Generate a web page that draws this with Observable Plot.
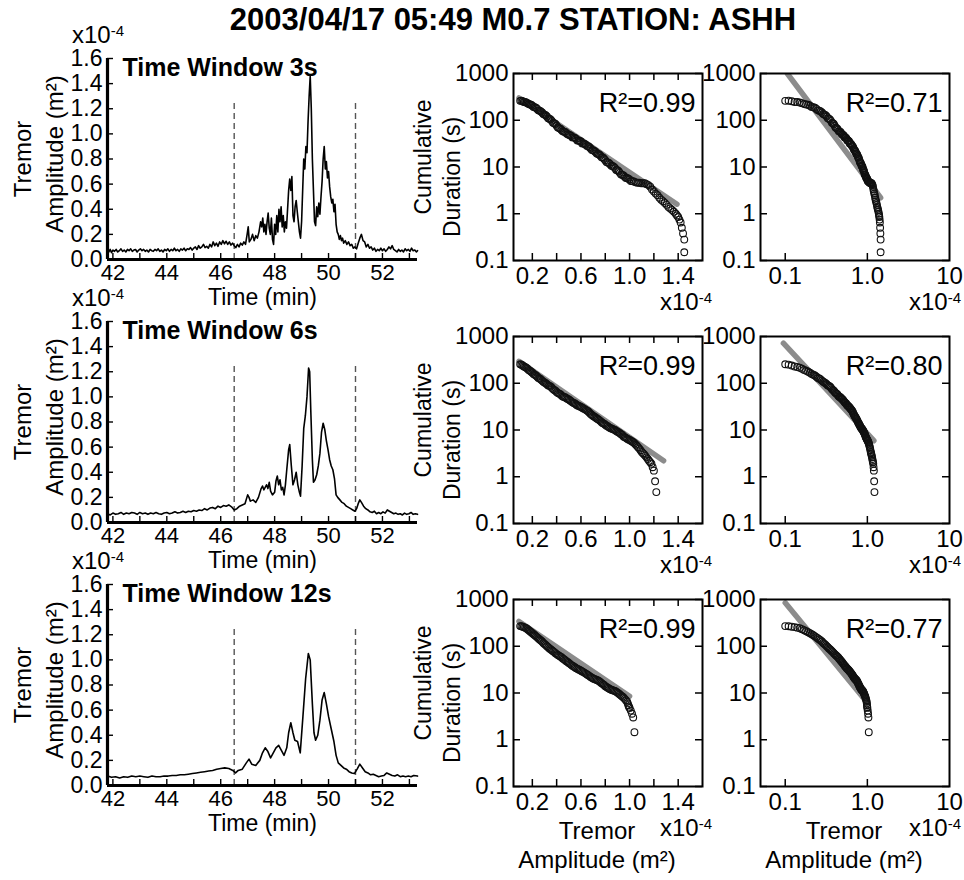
<!DOCTYPE html>
<html><head><meta charset="utf-8">
<script src="https://cdn.jsdelivr.net/npm/d3@7"></script>
<script src="https://cdn.jsdelivr.net/npm/@observablehq/plot@0.6"></script>
<style>
body{margin:0;background:#fff;}
#wrap{position:relative;width:964px;height:880px;overflow:hidden;background:#fff;font-family:"Liberation Sans",Arial,Helvetica,sans-serif;color:#000;}
#wrap sup{font-size:15px;vertical-align:7px;line-height:0;}
</style></head><body><div id="wrap"></div>
<script>
// ---------------- DATA ----------------
const title = "2003/04/17 05:49 M0.7 STATION: ASHH";
const windows = ["3s", "6s", "12s"];
const r2Linear = ["0.99", "0.99", "0.99"];
const r2Log = ["0.71", "0.80", "0.77"];
const timeTicks = [42, 44, 46, 48, 50, 52];
const minuteTicks = [42, 43, 44, 45, 46, 47, 48, 49, 50, 51, 52, 53];
const ampTicks = [0, 0.2, 0.4, 0.6, 0.8, 1.0, 1.2, 1.4, 1.6];
const durTicks = [0.1, 1, 10, 100, 1000];
const linAmpTicks = [0.2, 0.6, 1.0, 1.4];
const linAmpMinor = [0.2, 0.4, 0.6, 0.8, 1.0, 1.2, 1.4];
const logAmpTicks = [0.1, 1, 10];
const logAmpMinor = [0.1, 1];
const eventBounds = [46.5, 51.0];

// tremor amplitude (x1e-4 m^2) vs time (min)
const series3s = [[41.80,.085],[41.85,.06],[41.90,.08],[41.95,.055],[42.00,.075],[42.06,.065],[42.12,.08],[42.18,.06],[42.24,.07],[42.30,.085],[42.36,.065],[42.42,.075],[42.48,.06],[42.54,.08],[42.60,.07],[42.66,.085],[42.72,.065],[42.78,.075],[42.84,.08],[42.90,.06],[42.96,.075],[43.02,.085],[43.08,.07],[43.14,.08],[43.20,.065],[43.26,.075],[43.32,.06],[43.38,.08],[43.44,.07],[43.50,.065],[43.56,.08],[43.62,.07],[43.68,.085],[43.74,.065],[43.80,.075],[43.86,.06],[43.92,.08],[43.98,.07],[44.04,.085],[44.10,.065],[44.16,.08],[44.22,.07],[44.28,.09],[44.34,.07],[44.40,.08],[44.46,.065],[44.52,.085],[44.58,.075],[44.64,.09],[44.70,.07],[44.76,.085],[44.82,.08],[44.88,.095],[44.94,.075],[45.00,.09],[45.06,.1],[45.12,.08],[45.18,.11],[45.24,.09],[45.30,.1],[45.36,.12],[45.42,.095],[45.48,.105],[45.54,.09],[45.60,.12],[45.66,.1],[45.72,.14],[45.78,.11],[45.84,.13],[45.90,.105],[45.96,.14],[46.02,.12],[46.08,.15],[46.14,.125],[46.20,.145],[46.26,.12],[46.32,.14],[46.38,.115],[46.44,.13],[46.50,.11],[46.56,.095],[46.62,.12],[46.68,.1],[46.74,.13],[46.80,.115],[46.86,.14],[46.92,.12],[46.98,.2],[47.02,.26],[47.06,.14],[47.12,.16],[47.18,.2],[47.24,.15],[47.30,.19],[47.36,.17],[47.42,.22],[47.48,.3],[47.52,.26],[47.56,.33],[47.60,.22],[47.64,.28],[47.68,.2],[47.72,.3],[47.76,.37],[47.80,.25],[47.84,.2],[47.88,.33],[47.92,.16],[47.96,.12],[48.00,.28],[48.04,.2],[48.08,.35],[48.12,.22],[48.16,.4],[48.20,.3],[48.24,.42],[48.28,.26],[48.32,.35],[48.36,.22],[48.40,.3],[48.44,.25],[48.48,.4],[48.52,.55],[48.56,.64],[48.60,.55],[48.64,.66],[48.68,.35],[48.72,.3],[48.76,.42],[48.80,.47],[48.84,.38],[48.88,.3],[48.92,.22],[48.96,.17],[49.00,.3],[49.04,.55],[49.08,.8],[49.12,.72],[49.16,.9],[49.20,.85],[49.24,1.1],[49.28,1.3],[49.32,1.46],[49.36,1.2],[49.40,.8],[49.44,.55],[49.48,.3],[49.52,.27],[49.56,.42],[49.60,.34],[49.64,.45],[49.68,.36],[49.72,.5],[49.76,.62],[49.80,.8],[49.84,.9],[49.88,.72],[49.92,.78],[49.96,.65],[50.00,.7],[50.04,.58],[50.08,.5],[50.12,.45],[50.16,.48],[50.20,.38],[50.24,.44],[50.28,.28],[50.32,.22],[50.36,.2],[50.40,.16],[50.44,.19],[50.48,.15],[50.52,.17],[50.56,.13],[50.62,.15],[50.68,.12],[50.74,.14],[50.80,.11],[50.86,.12],[50.92,.09],[50.98,.1],[51.04,.085],[51.10,.13],[51.16,.17],[51.22,.2],[51.28,.15],[51.34,.14],[51.40,.1],[51.46,.12],[51.52,.09],[51.58,.1],[51.64,.075],[51.70,.09],[51.76,.065],[51.82,.08],[51.88,.07],[51.94,.09],[52.00,.07],[52.06,.085],[52.12,.065],[52.18,.08],[52.24,.1],[52.30,.085],[52.36,.11],[52.42,.08],[52.48,.07],[52.54,.06],[52.60,.08],[52.66,.065],[52.72,.075],[52.78,.06],[52.84,.085],[52.90,.07],[52.96,.08],[53.02,.065],[53.08,.09],[53.14,.07],[53.20,.075],[53.26,.06],[53.30,.07]];

const series6s = [[41.80,.07],[41.90,.06],[42.00,.075],[42.10,.065],[42.20,.07],[42.30,.08],[42.40,.065],[42.50,.075],[42.60,.07],[42.70,.08],[42.80,.075],[42.90,.065],[43.00,.08],[43.10,.07],[43.20,.075],[43.30,.065],[43.40,.075],[43.50,.07],[43.60,.08],[43.70,.07],[43.80,.065],[43.90,.075],[44.00,.08],[44.10,.07],[44.20,.075],[44.30,.085],[44.40,.075],[44.50,.08],[44.60,.09],[44.70,.08],[44.80,.09],[44.90,.085],[45.00,.095],[45.10,.09],[45.20,.1],[45.30,.095],[45.40,.11],[45.50,.1],[45.60,.115],[45.70,.12],[45.80,.11],[45.90,.13],[46.00,.12],[46.10,.135],[46.20,.13],[46.30,.14],[46.40,.125],[46.50,.1],[46.60,.11],[46.70,.13],[46.80,.14],[46.90,.15],[47.00,.22],[47.05,.2],[47.10,.17],[47.20,.18],[47.30,.16],[47.40,.2],[47.50,.27],[47.55,.29],[47.60,.26],[47.70,.3],[47.75,.27],[47.80,.32],[47.85,.25],[47.92,.22],[48.00,.24],[48.05,.33],[48.10,.37],[48.15,.3],[48.20,.34],[48.25,.26],[48.30,.28],[48.35,.22],[48.40,.3],[48.45,.42],[48.52,.58],[48.56,.62],[48.62,.45],[48.68,.3],[48.74,.34],[48.80,.4],[48.86,.3],[48.92,.24],[48.96,.21],[49.02,.45],[49.08,.75],[49.14,.85],[49.20,1.0],[49.26,1.23],[49.30,1.2],[49.34,.9],[49.40,.5],[49.44,.32],[49.50,.34],[49.56,.38],[49.62,.45],[49.68,.55],[49.74,.72],[49.80,.79],[49.86,.74],[49.92,.65],[49.98,.58],[50.04,.5],[50.10,.45],[50.16,.42],[50.22,.35],[50.28,.22],[50.34,.2],[50.42,.18],[50.50,.16],[50.58,.15],[50.66,.13],[50.74,.12],[50.82,.11],[50.90,.1],[50.98,.09],[51.04,.11],[51.10,.15],[51.16,.18],[51.22,.16],[51.30,.13],[51.38,.11],[51.46,.1],[51.54,.085],[51.62,.08],[51.70,.09],[51.78,.07],[51.86,.08],[51.94,.07],[52.02,.085],[52.10,.075],[52.18,.1],[52.26,.09],[52.34,.08],[52.42,.07],[52.50,.075],[52.58,.065],[52.66,.07],[52.74,.06],[52.82,.075],[52.90,.065],[52.98,.07],[53.06,.08],[53.14,.065],[53.22,.07],[53.30,.065]];

const series12s = [[41.80,.075],[41.95,.065],[42.10,.07],[42.25,.06],[42.40,.07],[42.55,.065],[42.70,.075],[42.85,.07],[43.00,.075],[43.15,.07],[43.30,.065],[43.45,.075],[43.60,.07],[43.75,.07],[43.90,.075],[44.05,.075],[44.20,.08],[44.35,.08],[44.50,.085],[44.65,.085],[44.80,.09],[44.95,.095],[45.10,.1],[45.25,.105],[45.40,.11],[45.55,.115],[45.70,.12],[45.85,.13],[46.00,.135],[46.15,.14],[46.30,.135],[46.45,.12],[46.55,.1],[46.65,.12],[46.80,.13],[46.95,.18],[47.05,.21],[47.15,.17],[47.30,.16],[47.45,.2],[47.55,.26],[47.65,.3],[47.75,.27],[47.85,.22],[47.95,.26],[48.05,.3],[48.15,.32],[48.25,.28],[48.35,.24],[48.45,.3],[48.52,.42],[48.60,.5],[48.68,.42],[48.75,.36],[48.85,.35],[48.95,.26],[49.05,.55],[49.15,.85],[49.25,1.05],[49.32,1.0],[49.40,.65],[49.46,.42],[49.52,.36],[49.60,.4],[49.68,.52],[49.76,.68],[49.84,.74],[49.92,.65],[50.00,.55],[50.10,.45],[50.20,.35],[50.28,.24],[50.36,.18],[50.46,.16],[50.56,.14],[50.66,.13],[50.76,.11],[50.86,.1],[50.96,.095],[51.06,.13],[51.16,.17],[51.26,.14],[51.36,.11],[51.46,.1],[51.56,.085],[51.66,.09],[51.76,.08],[51.86,.07],[51.96,.075],[52.06,.08],[52.16,.1],[52.26,.09],[52.36,.08],[52.46,.075],[52.56,.085],[52.66,.07],[52.76,.075],[52.86,.07],[52.96,.075],[53.06,.07],[53.16,.08],[53.30,.075]];

// cumulative duration (s) above amplitude threshold (x1e-4 m^2)
const cum3s = [[0.10,260],[0.11,262],[0.12,255],[0.13,246],[0.14,245],[0.15,240],[0.16,232],[0.17,222],[0.18,218],[0.19,214],[0.20,205],[0.21,193],[0.22,190],[0.23,185],[0.24,175],[0.25,163],[0.26,160],[0.27,155],[0.28,146],[0.29,136],[0.30,132],[0.31,128],[0.32,120],[0.33,110],[0.34,108],[0.35,104],[0.36,97],[0.37,88],[0.38,86],[0.39,83],[0.40,76],[0.41,70],[0.42,68],[0.43,66],[0.44,62],[0.45,58],[0.46,57],[0.47,56],[0.48,53],[0.49,50],[0.50,49],[0.51,48],[0.52,46],[0.53,43],[0.54,43],[0.55,42],[0.56,40],[0.57,37],[0.58,37],[0.59,36],[0.60,35],[0.61,32],[0.62,32],[0.63,31],[0.64,30],[0.65,28],[0.66,28],[0.67,26.5],[0.68,25],[0.69,23],[0.70,23],[0.71,22],[0.72,21],[0.73,19.5],[0.74,19],[0.75,18.5],[0.76,17.5],[0.77,16.2],[0.78,16],[0.79,15],[0.80,14],[0.81,12.8],[0.82,12.5],[0.83,12.2],[0.84,11.5],[0.85,10.6],[0.86,10.5],[0.87,10.1],[0.88,9.5],[0.89,8.6],[0.90,8.5],[0.91,8.1],[0.92,7.5],[0.93,6.9],[0.94,6.8],[0.95,6.6],[0.96,6.2],[0.97,5.8],[0.98,5.8],[0.99,5.6],[1.00,5.4],[1.01,5.0],[1.02,5.0],[1.035,4.9],[1.05,4.7],[1.065,4.6],[1.08,4.6],[1.095,4.5],[1.11,4.5],[1.125,4.5],[1.14,4.3],[1.155,4.1],[1.17,3.8],[1.185,3.3],[1.20,3.0],[1.215,2.7],[1.23,2.5],[1.245,2.2],[1.26,2.0],[1.275,1.85],[1.29,1.7],[1.305,1.55],[1.32,1.4],[1.335,1.3],[1.35,1.2],[1.365,1.1],[1.38,1.0],[1.39,0.92],[1.40,0.85],[1.41,0.75],[1.42,0.65],[1.43,0.5],[1.44,0.38],[1.45,0.28],[1.45,0.15]];
const cum6s = [[0.10,255],[0.11,250],[0.12,240],[0.13,229],[0.14,222],[0.15,215],[0.16,205],[0.17,193],[0.18,185],[0.19,177],[0.20,168],[0.21,158],[0.22,152],[0.23,146],[0.24,138],[0.25,130],[0.26,126],[0.27,121],[0.28,114],[0.29,108],[0.30,104],[0.31,100],[0.32,95],[0.33,90],[0.34,88],[0.35,85],[0.36,80],[0.37,75],[0.38,72],[0.39,69],[0.40,65],[0.41,62],[0.42,60],[0.43,58],[0.44,55],[0.45,52],[0.46,51],[0.47,50],[0.48,48],[0.49,46],[0.50,45],[0.51,43],[0.52,41],[0.53,39],[0.54,38],[0.55,37],[0.56,35],[0.57,33.5],[0.58,33],[0.59,32],[0.60,31],[0.61,30],[0.62,29],[0.63,28],[0.64,27],[0.65,26],[0.66,25],[0.67,23.5],[0.68,22],[0.69,21],[0.70,20],[0.71,19.2],[0.72,18.5],[0.73,17.6],[0.74,17],[0.75,16.3],[0.76,15.5],[0.77,14.6],[0.78,14],[0.79,13.6],[0.80,13],[0.81,12.4],[0.82,12],[0.83,11.4],[0.84,11],[0.85,10.8],[0.86,10.5],[0.87,10.2],[0.88,10],[0.89,9.5],[0.90,9.2],[0.91,8.9],[0.92,8.5],[0.93,8.1],[0.94,7.8],[0.95,7.3],[0.96,7.0],[0.97,6.8],[0.98,6.5],[0.99,6.3],[1.00,6.1],[1.01,5.9],[1.02,5.7],[1.03,5.5],[1.04,5.2],[1.05,4.9],[1.06,4.6],[1.07,4.3],[1.08,4.0],[1.09,3.7],[1.10,3.4],[1.11,3.2],[1.12,3.0],[1.13,2.8],[1.14,2.6],[1.15,2.4],[1.16,2.2],[1.17,2.05],[1.18,1.9],[1.19,1.6],[1.20,1.35],[1.21,0.8],[1.22,0.47]];
const cum12s = [[0.10,270],[0.11,268],[0.12,262],[0.13,257],[0.14,250],[0.15,242],[0.16,232],[0.17,220],[0.18,210],[0.19,200],[0.20,190],[0.21,180],[0.22,172],[0.23,163],[0.24,155],[0.25,147],[0.26,140],[0.27,133],[0.28,126],[0.29,118],[0.30,112],[0.31,106],[0.32,100],[0.33,95],[0.34,90],[0.35,86],[0.36,82],[0.37,78],[0.38,75],[0.39,71],[0.40,68],[0.41,65],[0.42,63],[0.43,60],[0.44,58],[0.45,55],[0.46,53],[0.47,50],[0.48,48],[0.49,46],[0.50,44],[0.51,42],[0.52,40],[0.53,38.5],[0.54,37],[0.55,35.5],[0.56,34],[0.57,33],[0.58,32],[0.59,31],[0.60,30],[0.61,29],[0.62,28],[0.63,27],[0.64,26],[0.65,25],[0.66,24],[0.67,23],[0.68,22],[0.69,21.2],[0.70,20.5],[0.71,20],[0.72,19.5],[0.73,19],[0.74,18.5],[0.75,17.8],[0.76,17],[0.77,16.2],[0.78,15.5],[0.79,14.8],[0.80,14],[0.81,13.5],[0.82,13],[0.83,12.5],[0.84,12],[0.85,11.7],[0.86,11.5],[0.87,11.2],[0.88,11],[0.89,10.6],[0.90,10.2],[0.91,9.8],[0.92,9.3],[0.93,8.8],[0.94,8.4],[0.95,8.0],[0.96,7.5],[0.97,7.0],[0.98,6.5],[0.985,6.0],[0.99,5.5],[0.995,5.1],[1.00,4.8],[1.01,4.2],[1.02,3.6],[1.03,3.0],[1.04,1.45]];

// fitted lines (endpoints): semilog (exponential) and log-log (power law)
const fitLinear = [[[0.09,300],[1.39,1.6]], [[0.09,295],[1.28,2.2]], [[0.09,340],[1.0,8.5]]];
const fitLog = [[[0.106,1000],[1.45,2.2]], [[0.095,720],[1.2,5.9]], [[0.1,850],[1.0,6.2]]];

const seriesByRow = [series3s, series6s, series12s];
const curvesByRow = [cum3s, cum6s, cum12s];

// ---------------- LAYOUT ----------------
const FONT = '"Liberation Sans", Arial, Helvetica, sans-serif';
const wrap = document.getElementById("wrap");
const rowOff = [0, 263, 526];
const TICK_FS = 24;

function place(node, left, top) {
  node.style.position = "absolute";
  node.style.left = left + "px";
  node.style.top = top + "px";
  wrap.appendChild(node);
}
function html(content, x, y, {size = 24, weight = "normal", anchor = "middle", lh = 1} = {}) {
  const d = document.createElement("div");
  d.innerHTML = content;
  const tx = anchor === "middle" ? "-50%" : anchor === "end" ? "-100%" : "0";
  d.style.cssText = `position:absolute;left:${x}px;top:${y}px;font-family:${FONT};font-size:${size}px;font-weight:${weight};line-height:${lh};white-space:nowrap;transform:translate(${tx},-50%);`;
  wrap.appendChild(d);
}
const baseStyle = {fontFamily: FONT, fontSize: TICK_FS + "px", color: "#000", background: "transparent", overflow: "visible"};
const vlabel = (t, dx, dy, fs) => Plot.text([t], {frameAnchor: "left", dx, dy, text: d => d, rotate: -90, fontSize: fs, textAnchor: "middle", lineAnchor: "middle"});

function timePanel(r) {
  const W = 430, H = 285, mL = 107, mR = 13, mT = 28, mB = 56;
  const iw = W - mL - mR, ih = H - mT - mB;
  return Plot.plot({
    width: W, height: H, marginLeft: mL, marginRight: mR, marginTop: mT, marginBottom: mB,
    style: baseStyle,
    x: {domain: [41.8, 53.3], axis: null},
    y: {domain: [0, 1.6], axis: null},
    marks: [
      Plot.ruleX(eventBounds, {x: d => d, y1: 0, y2: 1.25, stroke: "#555", strokeWidth: 1.4, strokeDasharray: "6,4"}),
      Plot.tickX(minuteTicks, {x: d => d, insetTop: ih - 6, stroke: "#000", strokeWidth: 1.4}),
      Plot.tickY(ampTicks, {y: d => d, insetRight: iw - 6, stroke: "#000", strokeWidth: 1.4}),
      Plot.line(seriesByRow[r], {x: d => d[0], y: d => d[1], stroke: "#000", strokeWidth: 1.6}),
      Plot.ruleX([41.8], {stroke: "#000", strokeWidth: 3.2}),
      Plot.ruleY([0], {stroke: "#000", strokeWidth: 3.2}),
      Plot.axisX(timeTicks, {tickSize: 0, tickPadding: 5, tickFormat: d => String(d), label: null, fontSize: 22}),
      Plot.axisY(ampTicks, {tickSize: 0, tickPadding: 5, tickFormat: d => d.toFixed(1), label: null, fontSize: 23}),
      Plot.text([`Time Window ${windows[r]}`], {frameAnchor: "top-left", dx: 15, dy: 9, text: d => d, fontWeight: "bold", fontSize: 25, textAnchor: "start", lineAnchor: "middle"}),
      vlabel("Tremor", -84, 0, 24),
      vlabel("Amplitude (m²)", -52, -5, 24),
      Plot.text(["Time (min)"], {frameAnchor: "bottom", dy: 38, text: d => d, fontSize: 23, textAnchor: "middle", lineAnchor: "middle"})
    ]
  });
}

function cumPanel(r, logX) {
  const W = logX ? 264 : 305, H = 310, mL = logX ? 60 : 113, mR = logX ? 15 : 3, mT = 33, mB = 90;
  const iw = W - mL - mR, ih = H - mT - mB;
  const marks = [
    Plot.line(logX ? fitLog[r] : fitLinear[r], {x: d => d[0], y: d => d[1], stroke: "#8c8c8c", strokeWidth: 5.5, clip: true}),
    Plot.dot(curvesByRow[r], {x: d => d[0], y: d => d[1], r: 3.4, stroke: "#111", strokeWidth: 1.1, fill: "none"}),
    Plot.tickY(durTicks, {y: d => d, insetRight: iw - 7, stroke: "#000", strokeWidth: 1.5}),
    Plot.tickY(durTicks, {y: d => d, insetLeft: iw - 7, stroke: "#000", strokeWidth: 1.5}),
    Plot.frame({stroke: "#000", strokeWidth: 2}),
    Plot.axisY(durTicks, {tickSize: 0, tickPadding: 5, tickFormat: d => String(d), label: null, fontSize: TICK_FS}),
    Plot.text([`R²=${logX ? r2Log[r] : r2Linear[r]}`], {frameAnchor: "top-right", dx: -7, dy: 30, text: d => d, fontSize: 27, textAnchor: "end", lineAnchor: "middle"})
  ];
  if (logX) {
    marks.push(
      Plot.tickX(logAmpMinor, {x: d => d, insetTop: ih - 7, stroke: "#000", strokeWidth: 1.5}),
      Plot.axisX(logAmpTicks, {tickSize: 0, tickPadding: 6, tickFormat: d => d === 1 ? "1.0" : String(d), label: null, fontSize: TICK_FS})
    );
  } else {
    marks.push(
      Plot.tickX(linAmpMinor, {x: d => d, insetTop: ih - 7, stroke: "#000", strokeWidth: 1.5}),
      Plot.tickX(linAmpMinor, {x: d => d, insetBottom: ih - 7, stroke: "#000", strokeWidth: 1.5}),
      Plot.axisX(linAmpTicks, {tickSize: 0, tickPadding: 6, tickFormat: d => d.toFixed(1), label: null, fontSize: TICK_FS}),
      vlabel("Cumulative", -90, -10, 23),
      vlabel("Duration (s)", -61, 10, 23)
    );
  }
  if (r === 2) {
    marks.push(
      Plot.text(["Tremor"], {frameAnchor: "bottom", dx: -11, dy: 45, text: d => d, fontSize: 24, textAnchor: "middle", lineAnchor: "middle"}),
      Plot.text(["Amplitude (m²)"], {frameAnchor: "bottom", dx: -11, dy: 74, text: d => d, fontSize: 24, textAnchor: "middle", lineAnchor: "middle"})
    );
  }
  return Plot.plot({
    width: W, height: H, marginLeft: mL, marginRight: mR, marginTop: mT, marginBottom: mB,
    style: baseStyle,
    x: logX ? {type: "log", domain: [0.05, 10], axis: null} : {domain: [0.045, 1.6], axis: null},
    y: {type: "log", domain: [0.1, 1000], axis: null},
    marks
  });
}

html(title, 513, 19, {size: 31, weight: "bold"});
for (let r = 0; r < 3; r++) {
  const o = rowOff[r];
  place(timePanel(r), 0, 30 + o);
  place(cumPanel(r, false), 400, 40 + o);
  place(cumPanel(r, true), 700, 40 + o);
  html("x10<sup>-4</sup>", 72, 35 + o, {anchor: "start", lh: 0.85});
  html("x10<sup>-4</sup>", 712, 302 + o, {anchor: "end", lh: 0.85});
  html("x10<sup>-4</sup>", 961, 302 + o, {anchor: "end", lh: 0.85});
}
</script></body></html>
